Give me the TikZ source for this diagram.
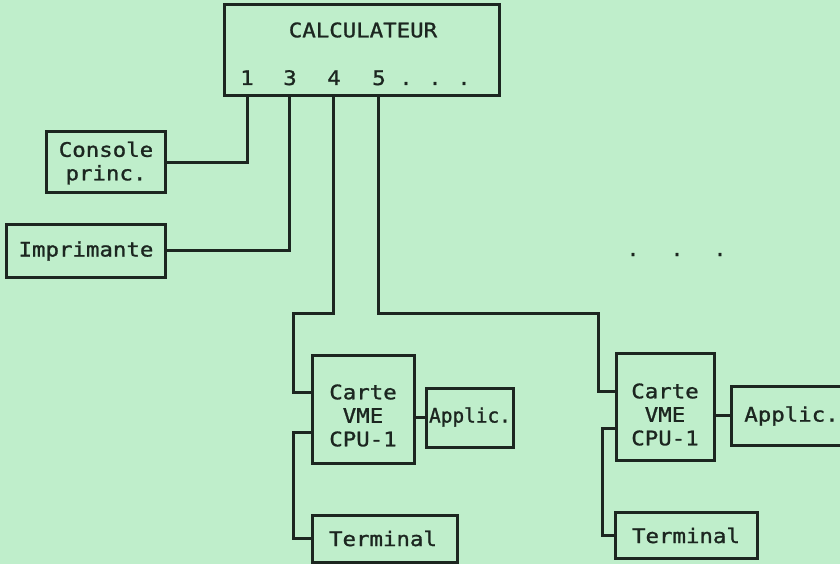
\documentclass[tikz,border=0pt]{standalone}
\usepackage{fontspec}
\newfontfamily\plotfont[FakeStretch=1.12,FakeBold=1.2]{DejaVu Sans Mono}
\newfontfamily\plotfontn[FakeStretch=0.97,FakeBold=1.2]{DejaVu Sans Mono}
\definecolor{bg}{HTML}{BFEECB}
\definecolor{ink}{HTML}{1C2620}
\begin{document}
\begin{tikzpicture}[x=1pt,y=-1pt,
  box/.style={draw=ink,line width=3pt,inner sep=0pt},
  lbl/.style={font=\plotfont\fontsize{20}{23.5}\selectfont,text=ink,inner sep=0pt},
  wire/.style={draw=ink,line width=3pt}]
\fill[bg] (0,0) rectangle (840,564);
\useasboundingbox (0,0) rectangle (840,564);
\clip (0,0) rectangle (840,564);

% computer
\node[box,minimum width=275pt,minimum height=91pt] (calc) at (361.5,50.5) {};
\node[lbl] (calct) at (363,30) {CALCULATEUR};
\node[lbl,anchor=base] (n1) at (247,85) {1};
\node[lbl,anchor=base] (n3) at (290,85) {3};
\node[lbl,anchor=base] (n4) at (334,85) {4};
\node[lbl,anchor=base] (n5) at (379,85) {5};
\node[lbl,anchor=base] (d1) at (406,85) {.};
\node[lbl,anchor=base] (d2) at (435,85) {.};
\node[lbl,anchor=base] (d3) at (464,85) {.};
\coordinate (p1) at (247,96);
\coordinate (p3) at (289,96);
\coordinate (p4) at (333,96);
\coordinate (p5) at (378,96);

% console and printer
\node[box,minimum width=119pt,minimum height=61pt] (cons) at (105.5,162.5) {};
\node[lbl,align=center] (const) at (106,163) {Console\\princ.};
\node[box,minimum width=159pt,minimum height=53pt] (impr) at (85.5,250.5) {};
\node[lbl] (imprt) at (86,251) {Imprimante};
\draw[wire] (cons.east) -| (p1);
\draw[wire] (impr.east) -| (p3);

% middle dots
\node[lbl,anchor=base] (m1) at (633,256) {.};
\node[lbl,anchor=base] (m2) at (677,256) {.};
\node[lbl,anchor=base] (m3) at (720,256) {.};

% first branch
\node[box,minimum width=102pt,minimum height=108pt] (c1) at (363,409) {};
\node[lbl,align=center] (c1t) at (363,415.5) {Carte\\VME\\CPU-1};
\node[box,minimum width=87pt,minimum height=59pt] (a1) at (469.5,417.5) {};
\node[lbl,font=\plotfontn\fontsize{20}{23.5}\selectfont] (a1t) at (470,417) {Applic.};
\node[box,minimum width=145pt,minimum height=47pt] (t1) at (384.5,538.5) {};
\node[lbl] (t1t) at (383,538.5) {Terminal};
\coordinate (j4a) at (333,313);
\coordinate (j4b) at (293,392);
\coordinate (tj1) at (293,432);
\draw[wire] (p4) -- (j4a) -| (j4b) -- (c1.west |- j4b);
\draw[wire] (c1.east |- a1.west) -- (a1.west);
\draw[wire] (c1.west |- tj1) -- (tj1) |- (t1.west);

% second branch
\node[box,minimum width=98pt,minimum height=107pt] (c2) at (665,406.5) {};
\node[lbl,align=center] (c2t) at (665,414.5) {Carte\\VME\\CPU-1};
\node[box,minimum width=119pt,minimum height=59pt] (a2) at (790.5,415.5) {};
\node[lbl] (a2t) at (791.5,416) {Applic.};
\node[box,minimum width=142pt,minimum height=46pt] (t2) at (686,535) {};
\node[lbl] (t2t) at (686,535.5) {Terminal};
\coordinate (j5a) at (378,313);
\coordinate (j5b) at (598,391);
\coordinate (tj2) at (602,428);
\draw[wire] (p5) -- (j5a) -| (j5b) -- (c2.west |- j5b);
\draw[wire] (c2.east |- a2.west) -- (a2.west);
\draw[wire] (c2.west |- tj2) -- (tj2) |- (t2.west);
\end{tikzpicture}
\end{document}
